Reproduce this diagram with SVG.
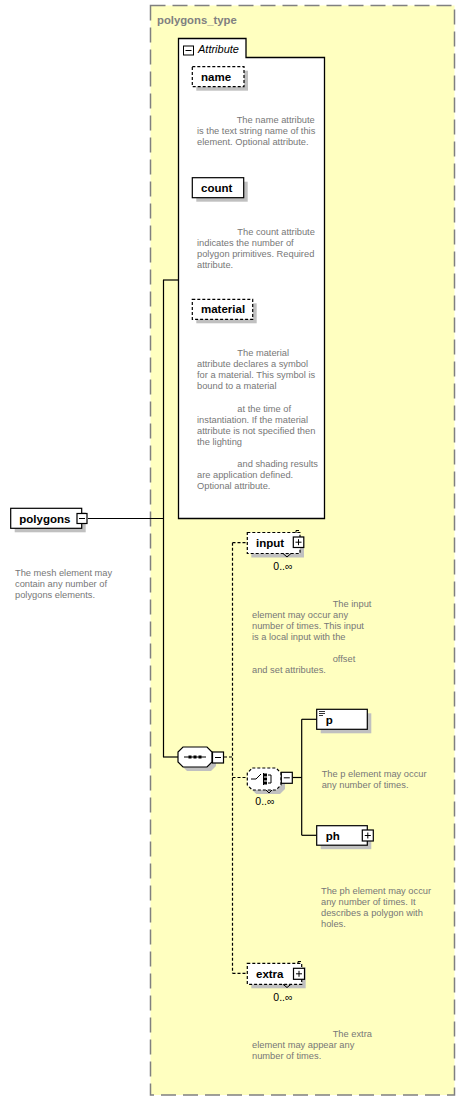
<svg xmlns="http://www.w3.org/2000/svg" width="465" height="1101" viewBox="0 0 465 1101">
<style>
.lbl{font-family:"Liberation Sans",Arial,sans-serif;font-size:11.5px;font-weight:bold;fill:#000}
.desc{font-family:"Liberation Sans",Arial,sans-serif;font-size:9.3px;fill:#777}
.occ{font-family:"Liberation Sans",Arial,sans-serif;font-size:10.5px;fill:#000}
.box{fill:#fff;stroke:#000;stroke-width:1.2}
.opt{fill:#fff;stroke:#000;stroke-width:1.2;stroke-dasharray:3,2}
.shadow{fill:#c0c0c0}
.btn{fill:#fff;stroke:#000;stroke-width:1.2}
.line{fill:none;stroke:#000;stroke-width:1.2}
.dline{fill:none;stroke:#000;stroke-width:1.2;stroke-dasharray:3,2}
</style>
<rect x="150.5" y="5.5" width="304" height="1089.5" fill="#ffffc0" stroke="#808080" stroke-width="1.5" stroke-dasharray="15,7"/>
<text x="157" y="23.5" font-family="Liberation Sans,Arial,sans-serif" font-size="11.3" font-weight="bold" fill="#808080">polygons_type</text>

<g id="connectors">
<line class="line" x1="88" y1="518.5" x2="163.5" y2="518.5"/>
<line class="line" x1="163.5" y1="280" x2="163.5" y2="757"/>
<line class="line" x1="163" y1="280" x2="178" y2="280"/>
<line class="line" x1="163" y1="757" x2="178" y2="757"/>
<line class="dline" x1="224" y1="757" x2="232.5" y2="757"/>
<line class="dline" x1="232.5" y1="542.7" x2="232.5" y2="973.3"/>
<line class="dline" x1="232.5" y1="542.7" x2="247" y2="542.7"/>
<line class="dline" x1="232.5" y1="777.5" x2="247" y2="777.5"/>
<line class="dline" x1="232.5" y1="973.3" x2="247" y2="973.3"/>
<line class="line" x1="292.5" y1="777.5" x2="301.7" y2="777.5"/>
<line class="line" x1="301.7" y1="719.3" x2="301.7" y2="835.3"/>
<line class="line" x1="301.7" y1="719.3" x2="316.7" y2="719.3"/>
<line class="line" x1="301.7" y1="835.3" x2="316.7" y2="835.3"/>
</g>

<g id="attributes">
<path d="M178.5,38.5 H246 V57.5 H324.5 V518.5 H178.5 Z" fill="#fff" stroke="#000" stroke-width="1.3"/>
<rect x="183.5" y="46" width="10" height="9" fill="#fff" stroke="#000" stroke-width="1"/>
<line x1="185.5" y1="50.5" x2="191.5" y2="50.5" stroke="#000" stroke-width="1"/>
<text x="198" y="52.5" font-family="Liberation Sans,Arial,sans-serif" font-size="11" font-style="italic" fill="#000">Attribute</text>
</g>

<g id="attr-name">
<rect class="shadow" x="196.3" y="70.7" width="51.7" height="20"/>
<rect class="opt" x="192.3" y="66.7" width="51.7" height="20"/>
<text class="lbl" x="201" y="80.7">name</text>
<text class="desc"><tspan x="236.7" y="123">The name attribute</tspan><tspan x="197" y="134">is the text string name of this</tspan><tspan x="197" y="145">element. Optional attribute.</tspan></text>
</g>

<g id="attr-count">
<rect class="shadow" x="196.3" y="181.7" width="51.4" height="20"/>
<rect class="box" x="192.3" y="177.7" width="51.4" height="20"/>
<text class="lbl" x="201" y="191.7">count</text>
<text class="desc"><tspan x="237.3" y="234.7">The count attribute</tspan><tspan x="197" y="245.7">indicates the number of</tspan><tspan x="197" y="256.7">polygon primitives. Required</tspan><tspan x="197" y="267.7">attribute.</tspan></text>
</g>

<g id="attr-material">
<rect class="shadow" x="196.3" y="303.3" width="60.4" height="20"/>
<rect class="opt" x="192.3" y="299.3" width="60.4" height="20"/>
<text class="lbl" x="201" y="313.3">material</text>
<text class="desc"><tspan x="237.3" y="356.3">The material</tspan><tspan x="197" y="367.3">attribute declares a symbol</tspan><tspan x="197" y="378.3">for a material. This symbol is</tspan><tspan x="197" y="389.3">bound to a material</tspan><tspan x="237.3" y="411.7">at the time of</tspan><tspan x="197" y="422.7">instantiation. If the material</tspan><tspan x="197" y="433.7">attribute is not specified then</tspan><tspan x="197" y="444.7">the lighting</tspan><tspan x="237.3" y="467">and shading results</tspan><tspan x="197" y="478">are application defined.</tspan><tspan x="197" y="489">Optional attribute.</tspan></text>
</g>

<g id="polygons">
<rect class="shadow" x="14.7" y="512.3" width="71" height="20"/>
<rect class="box" x="10.7" y="508.3" width="71" height="20"/>
<text class="lbl" x="19.3" y="522.5">polygons</text>
<rect class="btn" x="77" y="513.5" width="10" height="10"/>
<line x1="79" y1="518.5" x2="85" y2="518.5" stroke="#000"/>
<text class="desc"><tspan x="15" y="576.3">The mesh element may</tspan><tspan x="15" y="587.3">contain any number of</tspan><tspan x="15" y="598.3">polygons elements.</tspan></text>
</g>

<g id="sequence">
<polygon class="shadow" points="187,751 211,751 216,756 216,766 211,771 187,771 182,766 182,756"/>
<polygon points="183,747 207,747 212,752 212,762 207,767 183,767 178,762 178,752" fill="#fff" stroke="#000" stroke-width="1.2"/>
<line x1="184" y1="757" x2="206" y2="757" stroke="#000" stroke-width="1"/>
<rect x="188.5" y="755.5" width="3" height="3" fill="#000"/>
<rect x="193.5" y="755.5" width="3" height="3" fill="#000"/>
<rect x="198.5" y="755.5" width="3" height="3" fill="#000"/>
<rect class="btn" x="212.5" y="752" width="11" height="11"/>
<line x1="215" y1="757.5" x2="221" y2="757.5" stroke="#000"/>
</g>

<g id="input">
<rect class="shadow" x="251.3" y="536.5" width="52.7" height="21"/>
<rect class="opt" x="247.3" y="532.5" width="52.7" height="21"/>
<polyline points="283,553.5 287,557 291,553.5" fill="none" stroke="#000" stroke-width="1"/>
<text class="lbl" x="256" y="546.5">input</text>
<polyline points="296,533 296,530.5 299,530.5" fill="none" stroke="#000" stroke-width="1"/>
<rect class="btn" x="293.3" y="537" width="10.5" height="10.5"/>
<line x1="295.5" y1="542.2" x2="301.5" y2="542.2" stroke="#000"/>
<line x1="298.5" y1="539.2" x2="298.5" y2="545.2" stroke="#000"/>
<text class="occ" x="273.3" y="569.5">0..∞</text>
<text class="desc"><tspan x="332.7" y="607">The input</tspan><tspan x="252" y="618">element may occur any</tspan><tspan x="252" y="629">number of times. This input</tspan><tspan x="252" y="640">is a local input with the</tspan><tspan x="332.7" y="662">offset</tspan><tspan x="252" y="673">and set attributes.</tspan></text>
</g>

<g id="choice">
<polygon class="shadow" points="256.3,772 280,772 285,777 285,789 280,794 256.3,794 251.3,789 251.3,777"/>
<polygon points="252.3,768 276,768 281,773 281,785 276,790 252.3,790 247.3,785 247.3,773" fill="#fff" stroke="#000" stroke-width="1.2" stroke-dasharray="3,2"/>
<polyline points="266,790 269,793 272,790" fill="none" stroke="#000" stroke-width="1"/>
<polyline points="251,779 256,779 261,774" fill="none" stroke="#000" stroke-width="1"/>
<line x1="263.5" y1="773" x2="263.5" y2="785" stroke="#000" stroke-width="1"/>
<rect x="264" y="773.5" width="3" height="3" fill="#000"/>
<rect x="264" y="777.5" width="3" height="3" fill="#000"/>
<rect x="264" y="781.5" width="3" height="3" fill="#000"/>
<polyline points="268,775 271,775 271,783 268,783 M271,779 275,779" fill="none" stroke="#000" stroke-width="1"/>
<rect class="btn" x="281.3" y="772.3" width="11" height="11"/>
<line x1="283.8" y1="777.8" x2="289.8" y2="777.8" stroke="#000"/>
<text class="occ" x="255.3" y="805">0..∞</text>
</g>

<g id="p">
<rect class="shadow" x="320.7" y="713.3" width="50.6" height="20"/>
<rect class="box" x="316.7" y="709.3" width="50.6" height="20"/>
<line x1="319" y1="711.5" x2="325" y2="711.5" stroke="#000" stroke-width="0.8"/>
<line x1="319" y1="713.5" x2="325" y2="713.5" stroke="#000" stroke-width="0.8"/>
<line x1="319" y1="715.5" x2="323" y2="715.5" stroke="#000" stroke-width="0.8"/>
<text class="lbl" x="325.7" y="723.5">p</text>
<text class="desc"><tspan x="321.7" y="777.3">The p element may occur</tspan><tspan x="321.7" y="788.3">any number of times.</tspan></text>
</g>

<g id="ph">
<rect class="shadow" x="320.7" y="829.7" width="50.6" height="19.5"/>
<rect class="box" x="316.7" y="825.7" width="50.6" height="19.5"/>
<text class="lbl" x="325.7" y="839.5">ph</text>
<rect class="btn" x="362.3" y="830" width="11" height="11"/>
<line x1="364.8" y1="835.5" x2="370.8" y2="835.5" stroke="#000"/>
<line x1="367.8" y1="832.5" x2="367.8" y2="838.5" stroke="#000"/>
<text class="desc"><tspan x="321" y="893.7">The ph element may occur</tspan><tspan x="321" y="904.7">any number of times. It</tspan><tspan x="321" y="915.7">describes a polygon with</tspan><tspan x="321" y="926.7">holes.</tspan></text>
</g>

<g id="extra">
<rect class="shadow" x="251.3" y="967.3" width="54.4" height="21"/>
<rect class="opt" x="247.3" y="963.3" width="54.4" height="21"/>
<polyline points="283,984.3 287,987.5 291,984.3" fill="none" stroke="#000" stroke-width="1"/>
<text class="lbl" x="256" y="977.5">extra</text>
<polyline points="298,964 298,961.5 301,961.5" fill="none" stroke="#000" stroke-width="1"/>
<rect class="btn" x="293.5" y="968.3" width="11" height="11"/>
<line x1="296" y1="973.8" x2="302" y2="973.8" stroke="#000"/>
<line x1="299" y1="970.8" x2="299" y2="976.8" stroke="#000"/>
<text class="occ" x="273.3" y="1000.5">0..∞</text>
<text class="desc"><tspan x="332.7" y="1037.3">The extra</tspan><tspan x="252" y="1048.3">element may appear any</tspan><tspan x="252" y="1059.3">number of times.</tspan></text>
</g>
</svg>
